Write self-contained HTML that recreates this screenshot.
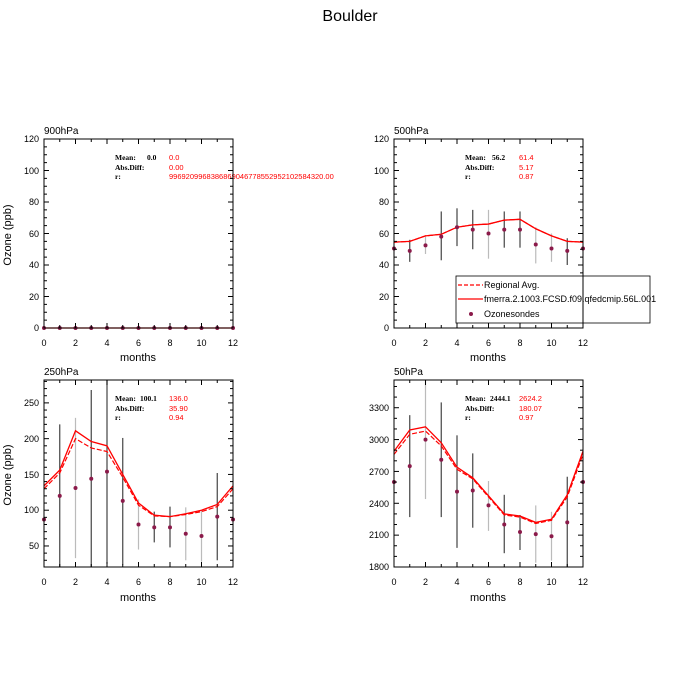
<!DOCTYPE html><html><head><style>body{margin:0;background:#fff}svg{display:block}text{font-family:"Liberation Sans",sans-serif}.s{font-family:"Liberation Serif",serif;font-size:7.5px;font-weight:bold}.r{fill:#f00;font-family:"Liberation Sans",sans-serif;font-size:7.5px}</style></head><body>
<svg id="c" width="700" height="700" xmlns="http://www.w3.org/2000/svg">
<text x="350" y="21" font-size="16" text-anchor="middle">Boulder</text>
<g font-size="10">
<text x="44" y="134">900hPa</text><text x="394" y="134">500hPa</text>
<text x="44" y="375">250hPa</text><text x="394" y="375">50hPa</text>
</g>
<g font-size="9" text-anchor="end">
<text x="39" y="142">120</text><text x="39" y="174">100</text><text x="39" y="205">80</text><text x="39" y="237">60</text><text x="39" y="268">40</text><text x="39" y="300">20</text><text x="39" y="331">0</text>
<text x="389" y="142">120</text><text x="389" y="174">100</text><text x="389" y="205">80</text><text x="389" y="237">60</text><text x="389" y="268">40</text><text x="389" y="300">20</text><text x="389" y="331">0</text>
<text x="39" y="406">250</text><text x="39" y="442">200</text><text x="39" y="478">150</text><text x="39" y="513">100</text><text x="39" y="549">50</text>
<text x="389" y="411">3300</text><text x="389" y="443">3000</text><text x="389" y="475">2700</text><text x="389" y="507">2400</text><text x="389" y="538">2100</text><text x="389" y="570">1800</text>
</g>
<g font-size="9" text-anchor="middle">
<text x="44" y="346">0</text><text x="75.5" y="346">2</text><text x="107" y="346">4</text><text x="138.5" y="346">6</text><text x="170" y="346">8</text><text x="201.5" y="346">10</text><text x="233" y="346">12</text>
<text x="394" y="346">0</text><text x="425.5" y="346">2</text><text x="457" y="346">4</text><text x="488.5" y="346">6</text><text x="520" y="346">8</text><text x="551.5" y="346">10</text><text x="583" y="346">12</text>
<text x="44" y="585">0</text><text x="75.5" y="585">2</text><text x="107" y="585">4</text><text x="138.5" y="585">6</text><text x="170" y="585">8</text><text x="201.5" y="585">10</text><text x="233" y="585">12</text>
<text x="394" y="585">0</text><text x="425.5" y="585">2</text><text x="457" y="585">4</text><text x="488.5" y="585">6</text><text x="520" y="585">8</text><text x="551.5" y="585">10</text><text x="583" y="585">12</text>
</g>
<g font-size="11" text-anchor="middle">
<text x="138" y="361">months</text><text x="488" y="361">months</text>
<text x="138" y="601">months</text><text x="488" y="601">months</text>
<text transform="translate(11,235) rotate(-90)">Ozone (ppb)</text>
<text transform="translate(11,475) rotate(-90)">Ozone (ppb)</text>
</g>
<text class="s" x="115" y="160">Mean:</text><text class="s" x="147" y="160">0.0</text><text class="r" x="169" y="160">0.0</text>
<text class="s" x="115" y="170">Abs.Diff:</text><text class="r" x="169" y="170">0.00</text>
<text class="s" x="115" y="179">r:</text><text class="r" x="169" y="179">9969209968386869046778552952102584320.00</text>
<text class="s" x="465" y="160">Mean:</text><text class="s" x="492" y="160">56.2</text><text class="r" x="519" y="160">61.4</text>
<text class="s" x="465" y="170">Abs.Diff:</text><text class="r" x="519" y="170">5.17</text>
<text class="s" x="465" y="179">r:</text><text class="r" x="519" y="179">0.87</text>
<text class="s" x="115" y="401">Mean:</text><text class="s" x="140" y="401">100.1</text><text class="r" x="169" y="401">136.0</text>
<text class="s" x="115" y="411">Abs.Diff:</text><text class="r" x="169" y="411">35.90</text>
<text class="s" x="115" y="420">r:</text><text class="r" x="169" y="420">0.94</text>
<text class="s" x="465" y="401">Mean:</text><text class="s" x="490" y="401">2444.1</text><text class="r" x="519" y="401">2624.2</text>
<text class="s" x="465" y="411">Abs.Diff:</text><text class="r" x="519" y="411">180.07</text>
<text class="s" x="465" y="420">r:</text><text class="r" x="519" y="420">0.97</text>
<g id="g"></g>
<rect x="456" y="276" width="194" height="47" fill="#fff" stroke="#000" stroke-width="0.8"/>
<line x1="458" y1="285" x2="483" y2="285" stroke="#f00" stroke-width="1.2" stroke-dasharray="4,2"/>
<line x1="458" y1="299" x2="483" y2="299" stroke="#f00" stroke-width="1.2"/>
<circle cx="471" cy="314" r="2" fill="#8b1a4a"/>
<g font-size="9"><text x="484" y="288">Regional Avg.</text><text x="484" y="302">fmerra.2.1003.FCSD.f09.qfedcmip.56L.001</text><text x="484" y="317">Ozonesondes</text></g>
<line x1="583" y1="276" x2="583" y2="323" stroke="#000" stroke-width="1"/>
</svg>
<script>
var g=document.getElementById('g'),ns='http://www.w3.org/2000/svg';
function el(t,a){var e=document.createElementNS(ns,t);for(var k in a)e.setAttribute(k,a[k]);g.appendChild(e);return e}
function panel(x0,y0,y1,lo,hi,maj,mn,sol,das,obs,err){
 var W=189,X=i=>x0+i*W/12,Y=v=>y1-(v-lo)/(hi-lo)*(y1-y0);
 err.forEach(e=>{el('line',{x1:X(e[0]),x2:X(e[0]),y1:Y(Math.max(e[1],lo)),y2:Y(Math.min(e[2],hi)),stroke:e[3]?'#bbb':'#444','stroke-width':1.2})});
 if(das)el('polyline',{points:das.map((v,i)=>X(i)+','+Y(v)).join(' '),fill:'none',stroke:'#f00','stroke-width':1.2,'stroke-dasharray':'5,2'});
 el('polyline',{points:sol.map((v,i)=>X(i)+','+Y(v)).join(' '),fill:'none',stroke:'#f00','stroke-width':1.3});
 obs.forEach((v,i)=>el('circle',{cx:X(i),cy:Y(v),r:2,fill:'#8b1a4a'}));
 el('rect',{x:x0,y:y0,width:W,height:y1-y0,fill:'none',stroke:'#000','stroke-width':1});
 for(var i=0;i<=12;i++){var L=i%2==0?5:3;
  el('line',{x1:X(i),x2:X(i),y1:y1,y2:y1-L,stroke:'#000'});el('line',{x1:X(i),x2:X(i),y1:y0,y2:y0+L,stroke:'#000'});}
 for(var v=Math.ceil(lo/mn)*mn;v<=hi;v+=mn){var L=(Math.abs(v/maj-Math.round(v/maj))<1e-6)?5:3;
  el('line',{x1:x0,x2:x0+L,y1:Y(v),y2:Y(v),stroke:'#000'});el('line',{x1:x0+W,x2:x0+W-L,y1:Y(v),y2:Y(v),stroke:'#000'});}
}
var z=[0,0,0,0,0,0,0,0,0,0,0,0,0];
panel(44,139,328,0,120,20,5,z,null,z,[]);
var s2=[54.5,55,58.5,59.5,64,65.5,66,68.5,69,63,58.5,55,54.5];
panel(394,139,328,0,120,20,5,s2,s2,[50.5,49,52.5,58,64,62.5,60,62.5,62.5,53,50.5,49,50.5],
[[1,42,56,0],[2,47,58,1],[3,43,74,0],[4,52,76,0],[5,50,75,0],[6,44,75,1],[7,51,74,0],[8,51,74,0],[9,41,64,1],[10,42,60,1],[11,40,57,0]]);
panel(44,380,567,20.6,282,50,10,[134,156,211,196,190,150,110,93,91,95,100,108,134],[130,152,200,187,182,146,107,92,91,94,98,105,130],
[87,120,131,144,154,113,80,76,76,67,64,91,87],
[[1,20,220,0],[2,33,229,1],[3,20,268,0],[4,25,290,0],[5,24,201,0],[6,45,115,1],[7,55,98,0],[8,48,105,0],[9,30,104,1],[10,28,100,1],[11,30,152,0]]);
panel(394,380,567,1800,3561,300,100,[2890,3090,3120,2970,2740,2640,2470,2300,2280,2220,2250,2480,2890],[2860,3050,3080,2940,2720,2630,2460,2290,2270,2210,2240,2460,2860],
[2600,2750,3000,2810,2510,2520,2380,2200,2130,2110,2090,2220,2600],
[[1,2270,3230,0],[2,2440,3590,1],[3,2270,3350,0],[4,1980,3040,0],[5,2170,2870,0],[6,2140,2610,1],[7,1930,2480,0],[8,1960,2290,0],[9,1840,2380,1],[10,1860,2320,1],[11,1780,2650,0]]);
</script>
</body></html>
